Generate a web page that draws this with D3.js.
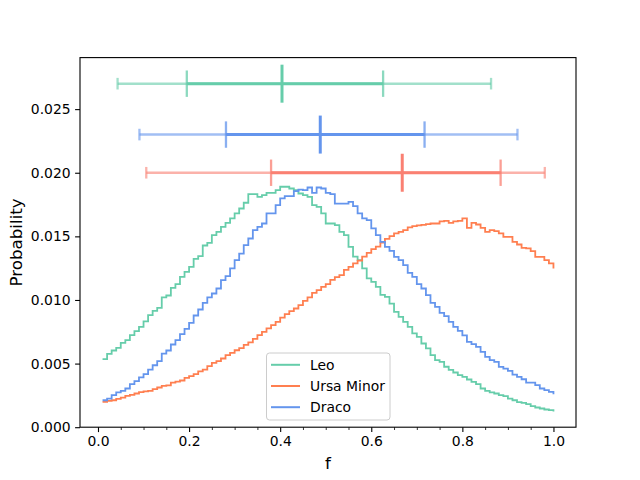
<!DOCTYPE html>
<html>
<head>
<meta charset="utf-8">
<script src="https://cdn.jsdelivr.net/npm/d3@7/dist/d3.min.js"></script>
<style>
  html, body { margin: 0; padding: 0; background: #fff; }
  svg { display: block; font-family: "DejaVu Sans", sans-serif; }
</style>
</head>
<body>
<div id="chart"></div>
<script>
// --- data ---
var galaxies = ["Leo", "Ursa Minor", "Draco"];
var lineColors = ["#66cdaa", "#ff7f50", "#6495ed"];
var barColors = ["#66cdaa", "#fa8072", "#6495ed"];

// f grid: 0.01 .. 1.00
var fValues = d3.range(1, 101).map(function(i) { return i / 100; });

var leo = [0.00535, 0.00577, 0.00603, 0.00624, 0.00663, 0.00684, 0.00723, 0.00755, 0.00789, 0.00831,
  0.00881, 0.00915, 0.00938, 0.0102, 0.01035, 0.01095, 0.01124, 0.01182, 0.01221, 0.0126,
  0.01323, 0.01344, 0.01428, 0.01449, 0.0151, 0.01536, 0.01575, 0.01606, 0.01641, 0.0168,
  0.01719, 0.01764, 0.01832, 0.01832, 0.01811, 0.01824, 0.01842, 0.01842, 0.01863, 0.0189,
  0.0189, 0.01876, 0.01863, 0.01837, 0.01824, 0.01811, 0.01745, 0.01732, 0.0168, 0.01601,
  0.01601, 0.01588, 0.01536, 0.01509, 0.01418, 0.0134, 0.01313, 0.01248, 0.01169, 0.01143,
  0.01103, 0.0104, 0.01025, 0.00972, 0.00907, 0.00867, 0.00828, 0.00789, 0.00737, 0.0071,
  0.00658, 0.00619, 0.00566, 0.00527, 0.00514, 0.00475, 0.0045, 0.0043, 0.0041, 0.00396,
  0.00375, 0.00356, 0.00338, 0.00304, 0.00286, 0.00273, 0.00265, 0.00252, 0.00244, 0.00225,
  0.00212, 0.00197, 0.00191, 0.00181, 0.00165, 0.00155, 0.00147, 0.00139, 0.00134, 0.00123];

var ursaMinor = [0.00199, 0.00207, 0.00212, 0.00223, 0.00233, 0.00246, 0.00254, 0.00265, 0.00275, 0.00281,
  0.00286, 0.00299, 0.00312, 0.00325, 0.00328, 0.00351, 0.00359, 0.00367, 0.00388, 0.00401,
  0.00417, 0.00438, 0.00453, 0.0048, 0.00506, 0.0052, 0.0054, 0.00566, 0.00584, 0.00605,
  0.00621, 0.00647, 0.00666, 0.00694, 0.00723, 0.00749, 0.00776, 0.00802, 0.00828, 0.00862,
  0.00888, 0.00912, 0.00933, 0.00959, 0.00993, 0.0102, 0.01056, 0.01077, 0.01103, 0.01125,
  0.01158, 0.0118, 0.01195, 0.01237, 0.0126, 0.01287, 0.0131, 0.0134, 0.0137, 0.014,
  0.0142, 0.0145, 0.0148, 0.01502, 0.01523, 0.01535, 0.01549, 0.0157, 0.0158, 0.01586,
  0.0159, 0.01596, 0.01601, 0.01601, 0.01617, 0.01622, 0.01606, 0.01617, 0.01622, 0.01641,
  0.01567, 0.01606, 0.01593, 0.01567, 0.01535, 0.01549, 0.01541, 0.01523, 0.01496, 0.01496,
  0.01457, 0.01436, 0.0141, 0.01405, 0.01384, 0.01339, 0.01339, 0.01313, 0.01287, 0.01248];

var draco = [0.00212, 0.00225, 0.00252, 0.00273, 0.00286, 0.00304, 0.00338, 0.00362, 0.00391, 0.00417,
  0.00453, 0.00487, 0.00519, 0.00579, 0.00603, 0.0065, 0.00684, 0.00731, 0.00773, 0.0082,
  0.00878, 0.00925, 0.00977, 0.0102, 0.01051, 0.0109, 0.01156, 0.01187, 0.01248, 0.01313,
  0.01365, 0.01431, 0.01483, 0.01549, 0.01575, 0.01601, 0.0168, 0.0168, 0.01745, 0.01798,
  0.01816, 0.01816, 0.01855, 0.01868, 0.01863, 0.01884, 0.01842, 0.01884, 0.01876, 0.01842,
  0.01832, 0.01758, 0.01758, 0.01758, 0.01771, 0.01737, 0.0168, 0.01641, 0.01627, 0.01562,
  0.01509, 0.01457, 0.01418, 0.01386, 0.01339, 0.01313, 0.01274, 0.01213, 0.01182, 0.01124,
  0.0109, 0.01038, 0.00977, 0.00946, 0.00899, 0.00873, 0.00828, 0.00789, 0.00757, 0.00721,
  0.00671, 0.00653, 0.00631, 0.00592, 0.00553, 0.00527, 0.00514, 0.00474, 0.00461, 0.00443,
  0.00414, 0.00396, 0.00377, 0.00351, 0.00351, 0.0033, 0.00304, 0.00291, 0.00278, 0.00259];

var seriesValues = [leo, ursaMinor, draco];

// credible intervals (outer = 95%, inner = 68%, plus median), one per galaxy
var barY  = [0.027, 0.020, 0.023];
var lo95  = [0.043, 0.106, 0.091];
var lo68  = [0.195, 0.380, 0.281];
var med   = [0.404, 0.668, 0.488];
var hi68  = [0.626, 0.884, 0.717];
var hi95  = [0.863, 0.981, 0.921];

var xTicks = [0.0, 0.2, 0.4, 0.6, 0.8, 1.0];
var xMinorTicks = [0.05, 0.1, 0.15, 0.25, 0.3, 0.35, 0.45, 0.5, 0.55, 0.65, 0.7, 0.75, 0.85, 0.9, 0.95];
var yTicks = [0.000, 0.005, 0.010, 0.015, 0.020, 0.025];

// --- layout ---
var W = 640, H = 480;
var margin = { left: 80, right: 64, top: 57.6, bottom: 52.8 };

var svg = d3.select("#chart").append("svg")
    .attr("width", W)
    .attr("height", H);

var x = d3.scaleLinear()
    .domain([-0.0395, 1.0495])
    .range([margin.left, W - margin.right]);

var y = d3.scaleLinear()
    .domain([0, 0.02905])
    .range([H - margin.bottom, margin.top]);

var plot = svg.append("g");

// step curves
var line = d3.line()
    .x(function(d) { return x(d[0]); })
    .y(function(d) { return y(d[1]); })
    .curve(d3.curveStepAfter);

seriesValues.forEach(function(vals, i) {
    var pts = fValues.map(function(f, k) { return [f, vals[k]]; });
    plot.append("path")
        .datum(pts)
        .attr("d", line)
        .attr("fill", "none")
        .attr("stroke", lineColors[i])
        .attr("stroke-width", 1.8);
});

// error bars
galaxies.forEach(function(g, i) {
    var yy = y(barY[i]);
    var eb = plot.append("g");
    // outer 95%
    eb.append("line")
        .attr("x1", x(lo95[i])).attr("x2", x(hi95[i]))
        .attr("y1", yy).attr("y2", yy)
        .attr("stroke", barColors[i]).attr("stroke-width", 2.5).attr("opacity", 0.6);
    [lo95[i], hi95[i]].forEach(function(v) {
        eb.append("line")
            .attr("x1", x(v)).attr("x2", x(v))
            .attr("y1", yy - 5.8).attr("y2", yy + 5.8)
            .attr("stroke", barColors[i]).attr("stroke-width", 2.3).attr("opacity", 0.6);
    });
    // inner 68%
    eb.append("line")
        .attr("x1", x(lo68[i])).attr("x2", x(hi68[i]))
        .attr("y1", yy).attr("y2", yy)
        .attr("stroke", barColors[i]).attr("stroke-width", 3);
    [lo68[i], hi68[i]].forEach(function(v) {
        eb.append("line")
            .attr("x1", x(v)).attr("x2", x(v))
            .attr("y1", yy - 13.2).attr("y2", yy + 13.2)
            .attr("stroke", barColors[i]).attr("stroke-width", 2.3).attr("opacity", 0.75);
    });
    // median
    eb.append("line")
        .attr("x1", x(med[i])).attr("x2", x(med[i]))
        .attr("y1", yy - 19).attr("y2", yy + 19)
        .attr("stroke", barColors[i]).attr("stroke-width", 3);
});

// axes
var xAxis = d3.axisBottom(x).tickValues(xTicks).tickFormat(d3.format(".1f"))
    .tickSizeInner(4.9).tickSizeOuter(0).tickPadding(4.5);
var gx = svg.append("g")
    .attr("transform", "translate(0," + (H - margin.bottom) + ")")
    .call(xAxis);
gx.select(".domain").remove();
gx.selectAll(".tick line").attr("stroke", "#000").attr("stroke-width", 1.1);
gx.selectAll(".tick text").attr("font-size", "13.9px").attr("fill", "#000")
    .attr("font-family", "DejaVu Sans");

var xMinor = d3.axisBottom(x).tickValues(xMinorTicks).tickFormat("")
    .tickSizeInner(2.8).tickSizeOuter(0);
var gxm = svg.append("g")
    .attr("transform", "translate(0," + (H - margin.bottom) + ")")
    .call(xMinor);
gxm.select(".domain").remove();
gxm.selectAll(".tick line").attr("stroke", "#000").attr("stroke-width", 0.8);

var yAxis = d3.axisLeft(y).tickValues(yTicks).tickFormat(d3.format(".3f"))
    .tickSizeInner(4.9).tickSizeOuter(0).tickPadding(4.5);
var gy = svg.append("g")
    .attr("transform", "translate(" + margin.left + ",0)")
    .call(yAxis);
gy.select(".domain").remove();
gy.selectAll(".tick line").attr("stroke", "#000").attr("stroke-width", 1.1);
gy.selectAll(".tick text").attr("font-size", "13.9px").attr("fill", "#000")
    .attr("font-family", "DejaVu Sans");

// frame
svg.append("rect")
    .attr("x", margin.left).attr("y", margin.top)
    .attr("width", W - margin.left - margin.right)
    .attr("height", H - margin.top - margin.bottom)
    .attr("fill", "none").attr("stroke", "#000").attr("stroke-width", 1.1);

// axis labels
svg.append("text")
    .attr("x", (margin.left + W - margin.right) / 2)
    .attr("y", 469)
    .attr("text-anchor", "middle")
    .attr("font-size", "16.7px")
    .text("f");

svg.append("text")
    .attr("transform", "translate(21.5," + ((margin.top + H - margin.bottom) / 2) + ") rotate(-90)")
    .attr("text-anchor", "middle")
    .attr("font-size", "16.7px")
    .text("Probability");

// legend
var lg = svg.append("g").attr("transform", "translate(266.5,353)");
lg.append("rect")
    .attr("width", 123.5).attr("height", 67)
    .attr("rx", 3)
    .attr("fill", "#fff").attr("fill-opacity", 0.8)
    .attr("stroke", "#cccccc").attr("stroke-width", 1);
galaxies.forEach(function(g, i) {
    var cy = 11.8 + i * 21.2;
    lg.append("line")
        .attr("x1", 4.5).attr("x2", 33.5)
        .attr("y1", cy).attr("y2", cy)
        .attr("stroke", lineColors[i]).attr("stroke-width", 2);
    lg.append("text")
        .attr("x", 43.5).attr("y", cy + 5)
        .attr("font-size", "13.9px")
        .text(g);
});
</script>
</body>
</html>
